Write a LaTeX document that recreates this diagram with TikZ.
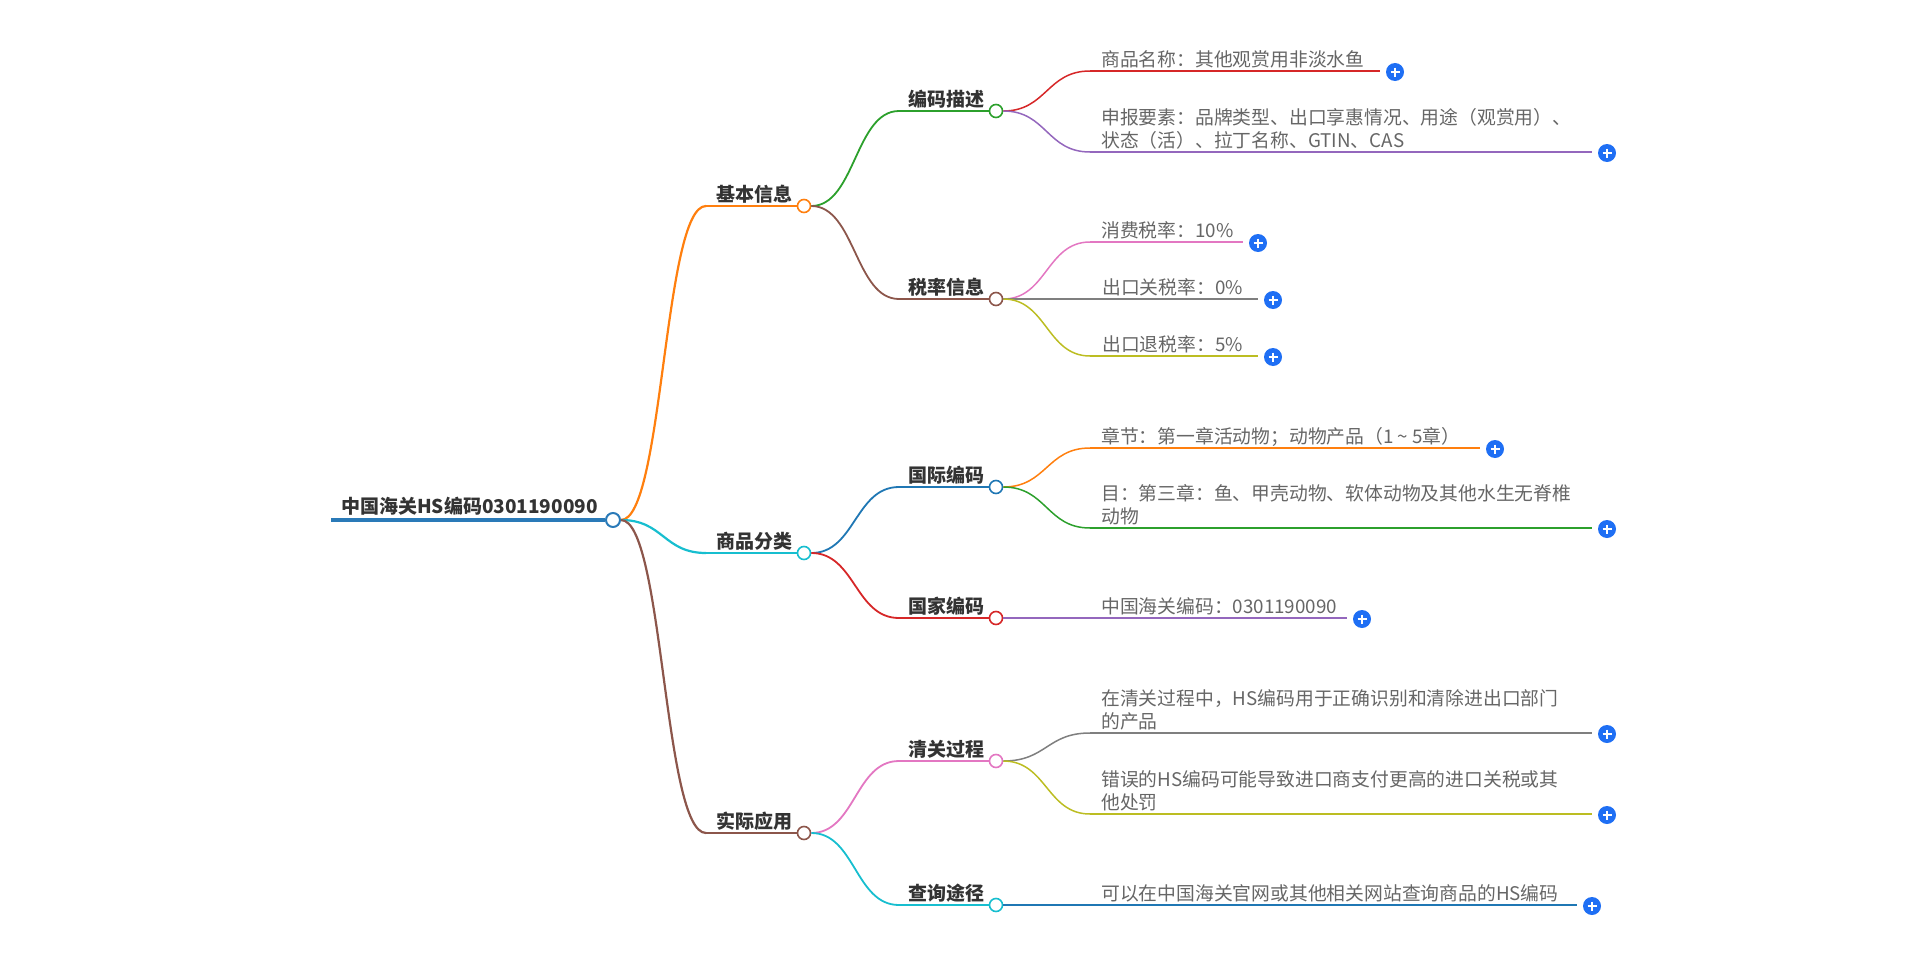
\documentclass[tikz,border=0pt]{standalone}
\usepackage{fontspec}
\setmainfont{Noto Sans CJK SC}
\usetikzlibrary{calc}
\definecolor{c0}{HTML}{1F77B4}
\definecolor{c1}{HTML}{FF7F0E}
\definecolor{c2}{HTML}{2CA02C}
\definecolor{c3}{HTML}{D62728}
\definecolor{c4}{HTML}{9467BD}
\definecolor{c5}{HTML}{8C564B}
\definecolor{c6}{HTML}{E377C2}
\definecolor{c7}{HTML}{7F7F7F}
\definecolor{c8}{HTML}{BCBD22}
\definecolor{c9}{HTML}{17BECF}
\definecolor{rootblue}{HTML}{2A7AB8}
\definecolor{ttlgray}{HTML}{333333}
\definecolor{leafgray}{HTML}{666666}
\definecolor{plusblue}{HTML}{1F6FF4}
\newcommand\mmconn[3]{%
  \path (#1) coordinate (tmpA) (#2) coordinate (tmpB);
  \path ($(tmpA)!0.5!(tmpB)$) coordinate (tmpM);
  \draw[#3] (tmpA) .. controls (tmpM |- tmpA) and (tmpM |- tmpB) .. (tmpB);
}
\begin{document}
\begin{tikzpicture}[x=1pt,y=-1pt,
  dot/.style={circle, draw=#1, fill=white, line width=1.6pt, minimum size=13pt, inner sep=0pt},
  rootdot/.style={circle, draw=rootblue, fill=white, line width=2pt, minimum size=14pt, inner sep=0pt},
  plusicon/.style={circle, fill=plusblue, minimum size=18pt, inner sep=0pt,
    path picture={\draw[white, line width=1.8pt] (path picture bounding box.center) ++(-4.5,0) -- ++(9,0)
      (path picture bounding box.center) ++(0,-4.5) -- ++(0,9);}},
  ttl/.style={font=\fontsize{19}{23}\selectfont\bfseries, text=ttlgray, inner sep=0pt, anchor=base east},
  leaf/.style={font=\fontsize{18.8}{23}\selectfont, text=leafgray, inner sep=0pt, anchor=base west},
  lone/.style={draw=#1, line width=2.2pt},
  ltwo/.style={draw=#1, line width=1.8pt},
  lleaf/.style={draw=#1, line width=1.5pt},
]
\useasboundingbox (0,0) rectangle (1920,953);

% ---------- root ----------
\node[rootdot] (R) at (613,520) {};
\coordinate (R-s) at (331,520);
\draw[rootblue, line width=4.5pt] (R-s) -- (R.west);
\node[ttl, anchor=base east] (R-t) at (598,513) {中国海关HS编码0301190090};

% ---------- level 1 ----------
\node[dot=c1] (A) at (804,206) {};
\node[dot=c9] (B) at (804,553) {};
\node[dot=c5] (C) at (804,833) {};
\coordinate (A-s) at (706,206);
\coordinate (B-s) at (706,553);
\coordinate (C-s) at (706,833);
\node[ttl] (A-t) at (793,201) {基本信息};
\node[ttl] (B-t) at (793,548) {商品分类};
\node[ttl] (C-t) at (793,828) {实际应用};
\draw[lone=c1] (A-s) -- (A.west);
\draw[lone=c9] (B-s) -- (B.west);
\draw[lone=c5] (C-s) -- (C.west);
\mmconn{R.east}{A-s}{lone=c1}
\mmconn{R.east}{B-s}{lone=c9}
\mmconn{R.east}{C-s}{lone=c5}

% ---------- level 2 ----------
\node[dot=c2] (A1) at (996,111) {};
\node[dot=c5] (A2) at (996,299) {};
\node[dot=c0] (B1) at (996,487) {};
\node[dot=c3] (B2) at (996,618) {};
\node[dot=c6] (C1) at (996,761) {};
\node[dot=c9] (C2) at (996,905) {};
\foreach \n/\yy in {A1/111,A2/299,B1/487,B2/618,C1/761,C2/905}{
  \coordinate (\n-s) at (899,\yy);
}
\node[ttl] (A1-t) at (985,106) {编码描述};
\node[ttl] (A2-t) at (985,294) {税率信息};
\node[ttl] (B1-t) at (985,482) {国际编码};
\node[ttl] (B2-t) at (985,613) {国家编码};
\node[ttl] (C1-t) at (985,756) {清关过程};
\node[ttl] (C2-t) at (985,900) {查询途径};
\draw[ltwo=c2] (A1-s) -- (A1.west);
\draw[ltwo=c5] (A2-s) -- (A2.west);
\draw[ltwo=c0] (B1-s) -- (B1.west);
\draw[ltwo=c3] (B2-s) -- (B2.west);
\draw[ltwo=c6] (C1-s) -- (C1.west);
\draw[ltwo=c9] (C2-s) -- (C2.west);
\mmconn{A.east}{A1-s}{ltwo=c2}
\mmconn{A.east}{A2-s}{ltwo=c5}
\mmconn{B.east}{B1-s}{ltwo=c0}
\mmconn{B.east}{B2-s}{ltwo=c3}
\mmconn{C.east}{C1-s}{ltwo=c6}
\mmconn{C.east}{C2-s}{ltwo=c9}

% ---------- leaves ----------
% name / line y / line end x / colour
\foreach \n/\yy/\xe in {A1a/71/1380, A1b/152/1592, A2a/242/1243, A2b/299/1258, A2c/356/1258,
                        B1a/448/1480, B1b/528/1592, B2a/618/1347,
                        C1a/733/1592, C1b/814/1592, C2a/905/1577}{
  \coordinate (\n-s) at (1090,\yy);
  \coordinate (\n-e) at (\xe,\yy);
  \node[plusicon] (\n-p) at (\xe+15,\yy+1) {};
}
\draw[lleaf=c3] (A1a-s) -- (A1a-e);
\draw[lleaf=c4] (A1b-s) -- (A1b-e);
\draw[lleaf=c6] (A2a-s) -- (A2a-e);
\draw[lleaf=c7] (A2b-s) -- (A2b-e);
\draw[lleaf=c8] (A2c-s) -- (A2c-e);
\draw[lleaf=c1] (B1a-s) -- (B1a-e);
\draw[lleaf=c2] (B1b-s) -- (B1b-e);
\draw[lleaf=c4] (B2a-s) -- (B2a-e);
\draw[lleaf=c7] (C1a-s) -- (C1a-e);
\draw[lleaf=c8] (C1b-s) -- (C1b-e);
\draw[lleaf=c0] (C2a-s) -- (C2a-e);
\mmconn{A1.east}{A1a-s}{lleaf=c3}
\mmconn{A1.east}{A1b-s}{lleaf=c4}
\mmconn{A2.east}{A2a-s}{lleaf=c6}
\mmconn{A2.east}{A2b-s}{lleaf=c7}
\mmconn{A2.east}{A2c-s}{lleaf=c8}
\mmconn{B1.east}{B1a-s}{lleaf=c1}
\mmconn{B1.east}{B1b-s}{lleaf=c2}
\mmconn{B2.east}{B2a-s}{lleaf=c4}
\mmconn{C1.east}{C1a-s}{lleaf=c7}
\mmconn{C1.east}{C1b-s}{lleaf=c8}
\mmconn{C2.east}{C2a-s}{lleaf=c0}

\node[leaf] (A1a-t) at (1101,66) {商品名称：其他观赏用非淡水鱼};
\node[leaf] (A1b-t) at (1101,147) {\begin{tabular}[b]{@{}l@{}}申报要素：品牌类型、出口享惠情况、用途（观赏用）、\\状态（活）、拉丁名称、GTIN、CAS\end{tabular}};
\node[leaf] (A2a-t) at (1101,237) {消费税率：10\%};
\node[leaf] (A2b-t) at (1102,294) {出口关税率：0\%};
\node[leaf] (A2c-t) at (1102,351) {出口退税率：5\%};
\node[leaf] (B1a-t) at (1101,443) {章节：第一章活动物；动物产品（1 {\char"7E} 5章）};
\node[leaf] (B1b-t) at (1101,523) {\begin{tabular}[b]{@{}l@{}}目：第三章：鱼、甲壳动物、软体动物及其他水生无脊椎\\动物\end{tabular}};
\node[leaf] (B2a-t) at (1101,613) {中国海关编码：0301190090};
\node[leaf] (C1a-t) at (1101,728) {\begin{tabular}[b]{@{}l@{}}在清关过程中，HS编码用于正确识别和清除进出口部门\\的产品\end{tabular}};
\node[leaf] (C1b-t) at (1101,809) {\begin{tabular}[b]{@{}l@{}}错误的HS编码可能导致进口商支付更高的进口关税或其\\他处罚\end{tabular}};
\node[leaf] (C2a-t) at (1101,900) {可以在中国海关官网或其他相关网站查询商品的HS编码};
\end{tikzpicture}
\end{document}
